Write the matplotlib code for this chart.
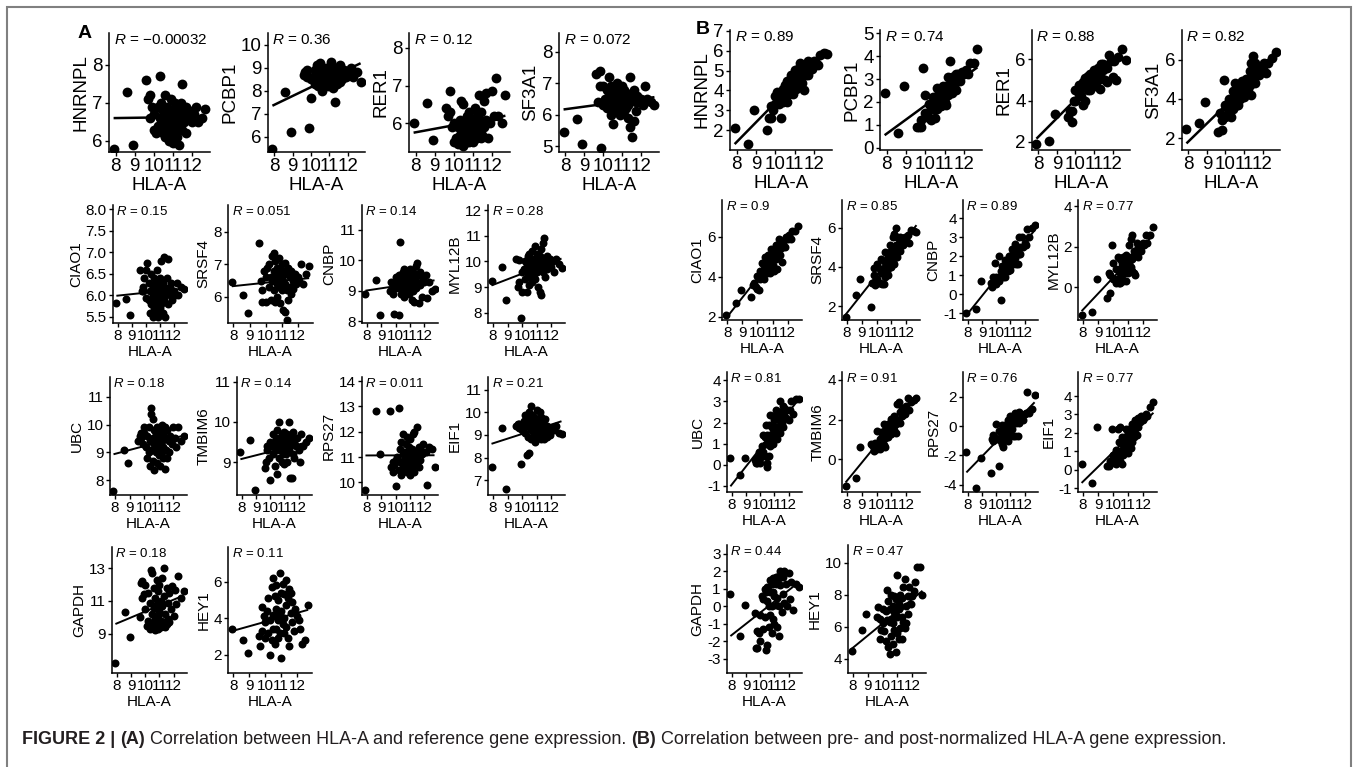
import numpy as np
import matplotlib
matplotlib.use("Agg")
import matplotlib.pyplot as plt
from matplotlib import font_manager
from matplotlib.patches import Rectangle
from matplotlib.ticker import FormatStrFormatter

# HLA-A expression per sample (x of every panel)
hla_a = [7.9, 8.6, 8.9, 9.6, 9.7, 9.8, 9.8, 9.9, 10.0, 10.0,
         10.1, 10.2, 10.2, 10.3, 10.3, 10.4, 10.4, 10.5, 10.5, 10.5,
         10.6, 10.6, 10.6, 10.7, 10.7, 10.7, 10.8, 10.8, 10.8, 10.9,
         10.9, 10.9, 11.0, 11.0, 11.0, 11.1, 11.1, 11.1, 11.2, 11.2,
         11.2, 11.3, 11.3, 11.3, 11.4, 11.4, 11.5, 11.5, 11.6, 11.6,
         11.7, 11.7, 11.8, 11.9, 12.0, 12.1, 12.2, 12.3, 12.5, 12.7]

# reference gene expression, same sample order
hnrnpl = [5.8, 7.3, 5.9, 7.6, 7.1, 7.2, 6.6, 6.9, 6.3, 6.7,
          6.2, 6.9, 6.4, 7.7, 6.6, 6.3, 7.0, 6.5, 6.2, 6.8,
          6.4, 7.2, 6.1, 6.6, 6.9, 6.3, 6.0, 6.7, 6.5, 7.1,
          6.2, 6.6, 5.95, 6.8, 6.4, 6.6, 7.0, 6.3, 6.5, 6.1,
          6.9, 5.9, 6.7, 6.4, 7.0, 6.6, 7.5, 6.3, 6.8, 6.5,
          6.2, 6.9, 6.6, 6.8, 6.5, 6.7, 6.9, 6.5, 6.6, 6.85]
pcbp1 = [5.5, 7.95, 6.2, 8.7, 8.8, 8.9, 8.6, 6.4, 7.7, 8.5,
         8.6, 8.9, 8.3, 9.1, 8.5, 8.7, 8.2, 8.8, 9.2, 8.4,
         8.6, 8.0, 8.9, 8.5, 8.7, 8.3, 9.0, 8.6, 8.4, 8.8,
         8.2, 8.6, 9.0, 8.5, 8.7, 9.25, 8.4, 8.8, 8.6, 8.1,
         8.9, 7.5, 8.7, 8.5, 9.0, 8.3, 8.8, 8.6, 8.4, 9.1,
         8.7, 8.5, 8.9, 8.6, 8.8, 8.7, 9.0, 8.6, 8.8, 8.4]
rer1 = [6.0, 6.55, 5.55, 6.4, 6.2, 6.85, 6.3, 5.9, 5.5, 6.0,
        5.6, 5.9, 5.45, 6.1, 5.7, 6.6, 5.5, 6.5, 5.8, 5.4,
        6.0, 5.6, 5.9, 5.5, 6.2, 5.7, 5.9, 5.5, 6.3, 5.6,
        6.0, 5.8, 5.5, 6.1, 5.9, 6.4, 5.7, 6.0, 5.6, 6.2,
        5.9, 6.75, 5.8, 6.1, 5.6, 6.3, 6.0, 5.7, 6.6, 5.9,
        6.8, 6.1, 5.6, 6.0, 6.85, 6.2, 7.2, 6.2, 6.0, 6.75]
sf3a1 = [5.45, 5.85, 5.05, 7.3, 6.4, 7.4, 6.9, 4.95, 6.3, 6.9,
         6.5, 6.8, 6.2, 7.2, 6.6, 6.0, 6.9, 5.7, 6.4, 6.7,
         6.3, 6.9, 6.1, 6.6, 7.0, 6.4, 6.2, 6.8, 6.5, 6.0,
         6.7, 6.4, 6.9, 6.3, 6.6, 6.1, 6.8, 6.5, 6.2, 6.7,
         6.4, 5.9, 6.6, 6.3, 7.2, 5.6, 5.3, 6.5, 5.8, 6.8,
         6.4, 6.1, 6.6, 6.4, 6.5, 6.3, 6.9, 6.5, 6.4, 6.3]
ciao1 = [5.82, 5.92, 5.55, 6.6, 6.1, 6.1, 6.2, 6.4, 5.95, 6.6,
         6.75, 5.9, 6.3, 5.6, 6.1, 6.5, 5.8, 6.0, 5.5, 6.2,
         5.7, 6.4, 5.95, 6.1, 5.6, 6.3, 5.85, 6.6, 6.0, 5.5,
         6.2, 5.9, 6.4, 5.7, 6.1, 6.0, 6.8, 5.8, 6.3, 5.6,
         6.1, 6.9, 5.9, 6.2, 6.0, 5.5, 6.4, 6.1, 6.85, 5.8,
         6.2, 6.0, 6.3, 5.9, 6.1, 6.0, 6.3, 6.0, 6.2, 6.15]
srsf4 = [6.45, 6.05, 5.5, 7.65, 6.5, 5.85, 6.2, 6.8, 5.85, 6.6,
         6.9, 6.3, 7.0, 6.6, 5.9, 7.25, 6.5, 7.35, 6.2, 6.8,
         5.85, 6.6, 7.1, 6.4, 6.9, 6.0, 6.7, 7.2, 6.3, 6.5,
         5.8, 6.9, 6.6, 7.0, 6.2, 6.8, 5.6, 6.5, 7.05, 5.55,
         6.4, 5.3, 6.7, 6.2, 6.9, 5.9, 6.6, 6.3, 6.8, 6.1,
         6.5, 6.25, 6.7, 6.4, 6.6, 6.5, 7.0, 6.4, 6.7, 6.95]
cnbp = [8.9, 9.35, 8.2, 9.0, 9.3, 9.2, 8.9, 8.25, 9.1, 9.45,
        9.3, 8.2, 9.5, 10.6, 9.1, 9.4, 8.9, 9.6, 9.2, 9.0,
        9.35, 9.7, 8.8, 9.25, 9.5, 9.0, 9.4, 9.15, 9.6, 8.9,
        9.3, 9.5, 9.1, 9.4, 9.7, 9.2, 8.7, 9.45, 9.3, 9.0,
        9.6, 9.2, 8.65, 9.4, 9.8, 9.1, 9.9, 9.3, 8.6, 9.5,
        9.2, 9.6, 8.8, 9.4, 9.3, 9.5, 8.75, 9.3, 9.0, 9.05]
myl12b = [9.25, 9.8, 8.5, 10.1, 9.0, 10.05, 9.2, 7.8, 9.6, 8.8,
          9.7, 9.3, 10.0, 8.8, 9.9, 9.5, 10.2, 9.8, 9.1, 10.3,
          9.6, 10.0, 9.4, 10.4, 9.7, 9.2, 9.9, 10.1, 9.5, 10.6,
          9.8, 9.3, 10.0, 9.6, 10.3, 9.9, 9.0, 10.1, 8.8, 9.7,
          10.2, 8.7, 9.9, 10.5, 10.7, 9.6, 10.9, 9.8, 10.0, 9.4,
          10.2, 9.7, 9.9, 10.1, 9.8, 10.0, 9.6, 10.1, 9.9, 9.75]
ubc = [7.6, 9.1, 8.6, 9.4, 9.6, 9.7, 9.5, 9.3, 9.7, 9.9,
       9.2, 8.8, 9.6, 9.0, 9.9, 8.5, 9.4, 10.6, 10.4, 9.1,
       10.2, 8.7, 9.5, 9.8, 8.35, 9.3, 9.0, 9.7, 9.4, 8.6,
       9.9, 9.2, 9.5, 8.9, 9.8, 9.3, 8.5, 9.6, 9.0, 10.0,
       9.4, 8.8, 9.7, 9.2, 9.9, 8.4, 9.5, 9.1, 8.8, 9.8,
       9.4, 9.0, 9.6, 9.3, 9.9, 9.5, 9.2, 9.9, 9.4, 9.6]
tmbim6 = [9.25, 9.55, 8.3, 8.85, 9.0, 9.3, 9.4, 9.1, 9.5, 8.55,
          9.4, 9.7, 9.2, 9.5, 8.9, 9.6, 9.3, 8.7, 9.5, 9.8,
          10.0, 9.4, 9.1, 9.6, 9.3, 9.5, 9.0, 9.7, 9.4, 9.2,
          9.6, 9.45, 9.3, 9.75, 8.95, 9.5, 9.2, 9.6, 9.4, 9.0,
          9.7, 10.0, 9.3, 9.5, 8.6, 9.4, 8.6, 9.6, 9.2, 9.75,
          9.5, 9.1, 9.4, 9.6, 9.3, 9.0, 9.7, 9.4, 9.5, 9.6]
rps27 = [9.7, 12.8, 11.1, 12.8, 10.6, 10.4, 10.8, 10.7, 9.85, 10.9,
         11.0, 12.95, 10.5, 11.3, 10.8, 11.6, 10.3, 11.1, 10.7, 11.9,
         10.5, 11.2, 10.9, 11.5, 10.6, 11.0, 11.8, 10.4, 11.2, 10.8,
         11.4, 10.6, 11.1, 10.3, 11.7, 10.9, 11.3, 10.5, 11.0, 11.9,
         10.7, 12.0, 10.9, 10.4, 11.2, 10.8, 12.2, 11.0, 10.6, 11.4,
         10.9, 11.3, 11.1, 11.5, 11.2, 11.2, 9.9, 11.4, 11.3, 10.6]
eif1 = [7.6, 9.3, 6.6, 9.4, 9.5, 9.5, 9.3, 7.7, 9.2, 9.3,
        9.6, 9.1, 9.9, 8.1, 9.4, 9.7, 8.9, 8.2, 9.5, 10.0,
        10.3, 9.2, 8.8, 9.6, 9.3, 9.9, 9.0, 9.5, 9.8, 9.2,
        8.7, 9.6, 10.1, 9.4, 9.0, 9.7, 9.3, 8.9, 9.5, 10.0,
        9.1, 9.4, 8.8, 9.8, 9.2, 9.6, 8.8, 9.3, 9.1, 9.7,
        8.9, 9.4, 9.2, 9.0, 9.3, 9.3, 9.2, 9.4, 9.1, 9.05]
gapdh = [7.2, 10.3, 8.8, 10.0, 12.1, 11.2, 12.2, 11.4, 12.0, 10.5,
         9.5, 11.5, 9.8, 10.9, 9.3, 12.9, 9.6, 12.7, 10.2, 9.4,
         11.8, 9.7, 10.6, 9.2, 11.2, 9.9, 12.3, 9.5, 10.8, 9.3,
         11.6, 10.1, 9.6, 12.0, 10.4, 9.4, 11.0, 9.8, 12.4, 9.5,
         10.7, 13.0, 9.7, 11.3, 9.4, 10.2, 11.8, 9.6, 10.9, 9.9,
         11.5, 9.7, 10.5, 11.9, 10.1, 11.7, 10.8, 12.5, 11.2, 11.6]
hey1 = [3.4, 2.8, 2.1, 3.0, 2.5, 3.3, 4.6, 4.1, 2.9, 3.8,
        4.4, 3.2, 5.1, 2.0, 3.9, 5.7, 2.8, 6.2, 4.2, 3.4,
        5.2, 2.6, 4.1, 5.8, 3.4, 4.5, 2.9, 5.0, 3.9, 6.5,
        4.2, 3.2, 5.4, 1.8, 4.4, 3.7, 5.9, 4.0, 3.2, 5.3,
        4.0, 6.1, 4.7, 3.5, 5.1, 2.9, 5.6, 2.5, 4.3, 5.4,
        3.8, 4.9, 3.3, 4.5, 4.1, 3.9, 3.4, 2.6, 2.8, 4.7]

genes = ["HNRNPL", "PCBP1", "RER1", "SF3A1", "CIAO1", "SRSF4", "CNBP",
         "MYL12B", "UBC", "TMBIM6", "RPS27", "EIF1", "GAPDH", "HEY1"]
gene_values = [hnrnpl, pcbp1, rer1, sf3a1, ciao1, srsf4, cnbp,
               myl12b, ubc, tmbim6, rps27, eif1, gapdh, hey1]

r_pre = ["\u22120.00032", "0.36", "0.12", "0.072", "0.15", "0.051", "0.14",
         "0.28", "0.18", "0.14", "0.011", "0.21", "0.18", "0.11"]
r_post = ["0.89", "0.74", "0.88", "0.82", "0.9", "0.85", "0.89",
          "0.77", "0.81", "0.91", "0.76", "0.77", "0.44", "0.47"]

# ---- layout (pixels: left, top, right, bottom) ----
pre_box = [(109, 33, 210, 152), (268, 33, 365, 152), (409, 33, 510, 152), (559, 33, 659, 152),
           (113, 205, 187, 323), (228, 205, 313, 323), (362, 205, 438, 323), (488, 205, 565, 323),
           (110, 377, 187, 495), (237, 377, 312, 495), (362, 377, 438, 495), (488, 377, 565, 495),
           (112, 547, 187, 673), (228, 547, 312, 673)]
post_box = [(730, 30, 832, 150), (880, 30, 982, 150), (1032, 30, 1130, 150), (1182, 30, 1280, 150),
            (722, 200, 802, 320), (842, 200, 920, 320), (963, 200, 1038, 320), (1078, 200, 1157, 320),
            (727, 372, 802, 492), (842, 372, 920, 492), (963, 372, 1038, 492), (1078, 372, 1157, 492),
            (727, 545, 802, 673), (848, 545, 926, 673)]
pre_ylim = [(5.71, 8.84), (5.35, 10.5), (5.24, 8.39), (4.81, 8.6), (5.36, 8.1), (5.2, 8.83),
            (7.95, 11.8), (7.6, 12.2), (7.46, 11.72), (8.18, 11.12), (9.5, 14.16), (6.34, 11.57),
            (6.6, 14.3), (1.0, 7.9)]
post_ylim = [(1.0, 7.05), (-0.1, 5.14), (1.6, 7.43), (1.4, 7.5), (1.85, 7.85), (1.3, 7.4),
             (-1.35, 4.95), (-1.6, 4.3), (-1.3, 4.4), (-1.65, 4.4), (-4.5, 3.7), (-1.2, 5.3),
             (-3.8, 3.5), (3.1, 11.1)]
pre_yticks = [[6, 7, 8], [6, 7, 8, 9, 10], [6, 7, 8], [5, 6, 7, 8], [5.5, 6.0, 6.5, 7.0, 7.5, 8.0],
              [6, 7, 8], [8, 9, 10, 11], [8, 9, 10, 11, 12], [8, 9, 10, 11], [9, 10, 11],
              [10, 11, 12, 13, 14], [7, 8, 9, 10, 11], [9, 11, 13], [2, 4, 6]]
post_yticks = [[2, 3, 4, 5, 6, 7], [0, 1, 2, 3, 4, 5], [2, 4, 6], [2, 4, 6], [2, 4, 6], [2, 4, 6],
               [-1, 0, 1, 2, 3, 4], [0, 2, 4], [-1, 0, 1, 2, 3, 4], [0, 2, 4], [-4, -2, 0, 2],
               [-1, 0, 1, 2, 3, 4], [-3, -2, -1, 0, 1, 2, 3], [4, 6, 8, 10]]

plt.rcParams['font.family'] = ['Liberation Sans', 'DejaVu Sans']
plt.rcParams['axes.unicode_minus'] = False
plt.rcParams['mathtext.fontset'] = 'custom'
plt.rcParams['mathtext.it'] = 'Liberation Sans:italic'
plt.rcParams['mathtext.rm'] = 'Liberation Sans'

W, H = 1357, 767
fig = plt.figure(figsize=(W / 100, H / 100), dpi=100)


def have_font(name):
    try:
        font_manager.findfont(font_manager.FontProperties(family=name),
                              fallback_to_default=False)
        return True
    except ValueError:
        return False


def draw_panel(box, yvals, gene, r_txt, ylim, yticks, big, one_decimal=False):
    l, t, r, b = box
    ax = fig.add_axes([l / W, 1 - b / H, (r - l) / W, (b - t) / H])
    fs = 13.5 if big else 11
    x = np.array(hla_a)
    y = np.array(yvals)
    ax.scatter(x, y, s=50 if big else 33, color='black', linewidths=0, zorder=2)
    k, c = np.polyfit(x, y, 1)
    xs = np.array([x.min(), x.max()])
    ax.plot(xs, k * xs + c, color='black', lw=1.8 if big else 1.4,
            solid_capstyle='butt', zorder=3)
    ax.margins(x=0.05)
    ax.set_ylim(*ylim)
    ax.set_xticks([8, 9, 10, 11, 12])
    ax.set_yticks(yticks)
    if one_decimal:
        ax.yaxis.set_major_formatter(FormatStrFormatter('%.1f'))
    for s in ['top', 'right']:
        ax.spines[s].set_visible(False)
    for s in ['left', 'bottom']:
        ax.spines[s].set_linewidth(1.1)
    ax.tick_params(length=3, width=1.0, labelsize=fs, pad=1.5, colors='black')
    ax.set_xlabel("HLA-A", fontsize=fs, labelpad=1)
    ax.set_ylabel(gene, fontsize=fs, labelpad=2)
    ax.text(x.min(), 1.0, "$R$ = " + r_txt, transform=ax.get_xaxis_transform(),
            ha='left', va='top', fontsize=11 if big else 9.5)
    ax.set_facecolor('none')
    return ax


for i, gene in enumerate(genes):
    big = i < 4
    pre = gene_values[i]
    # post-normalized value = HLA-A minus the reference gene
    post = list(np.array(hla_a) - np.array(pre))
    draw_panel(pre_box[i], pre, gene, r_pre[i], pre_ylim[i], pre_yticks[i], big,
               one_decimal=(gene == "CIAO1"))
    draw_panel(post_box[i], post, gene, r_post[i], post_ylim[i], post_yticks[i], big)

fig.text(85 / W, 1 - 34 / H, "A", fontsize=14, fontweight='bold', ha='center', va='center')
fig.text(703 / W, 1 - 29 / H, "B", fontsize=14, fontweight='bold', ha='center', va='center')

# outer frame
fig.add_artist(Rectangle((7 / W, -0.02), (1351 - 7) / W, 1.02 - 7 / H, transform=fig.transFigure,
                         fill=False, edgecolor='#808080', lw=1.5))

# caption with mixed weights
cap_font = 'Liberation Sans Narrow' if have_font('Liberation Sans Narrow') else 'Liberation Sans'
segments = [("FIGURE 2 |", 'bold'), ("(A)", 'bold'),
            ("Correlation between HLA-A and reference gene expression.", 'normal'),
            ("(B)", 'bold'),
            ("Correlation between pre- and post-normalized HLA-A gene expression.", 'normal')]
renderer = fig.canvas.get_renderer()


def text_width(s, weight, size):
    t = fig.text(0, 0, s, fontsize=size, fontweight=weight, family=cap_font)
    w = t.get_window_extent(renderer).width
    t.remove()
    return w


base = 10.0
space = text_width("x x", 'normal', base) - text_width("xx", 'normal', base)
total = sum(text_width(s, wt, base) for s, wt in segments) + space * (len(segments) - 1)
size = base * (1233 - 22) / total
space = space * size / base
xpos = 22
for s, wt in segments:
    t = fig.text(xpos / W, 1 - 740 / H, s, fontsize=size, fontweight=wt, family=cap_font,
                 color='#231f20', va='center', ha='left')
    xpos += t.get_window_extent(renderer).width + space

fig.savefig("out.png", dpi=100)
